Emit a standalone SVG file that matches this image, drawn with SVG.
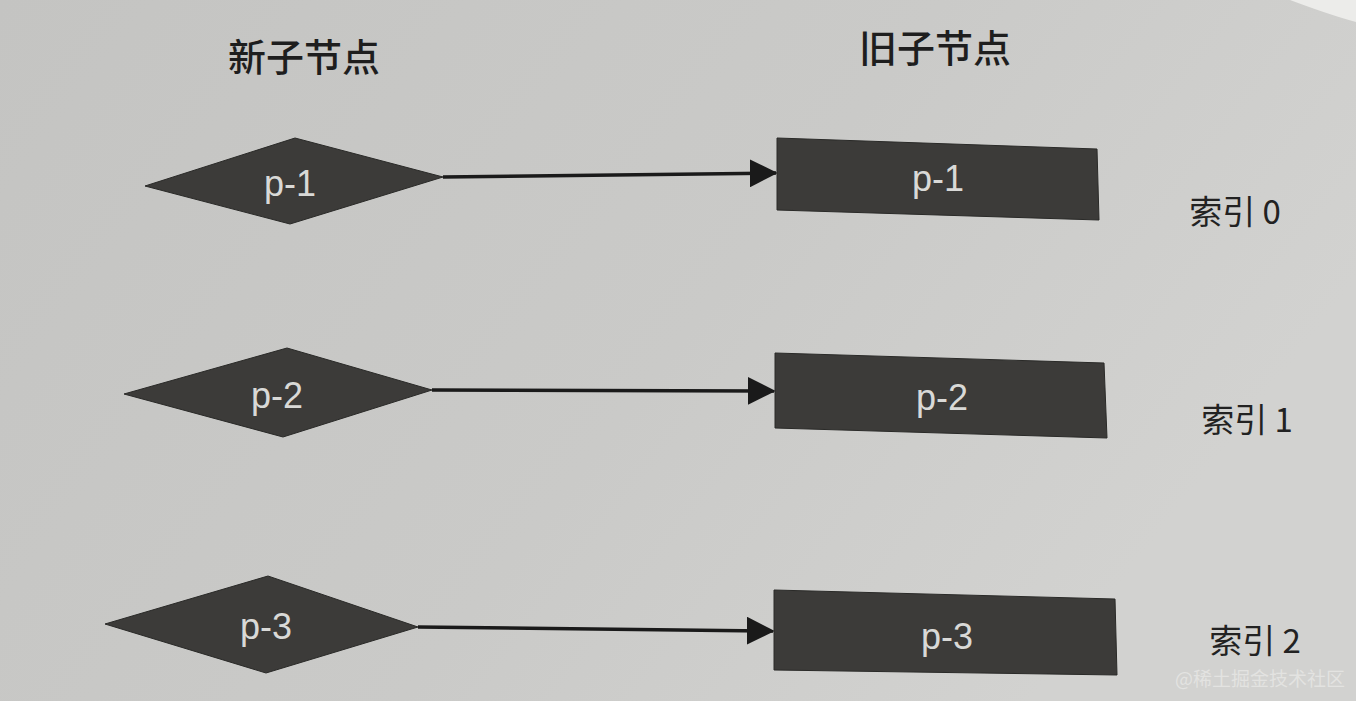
<svg xmlns="http://www.w3.org/2000/svg" width="1356" height="701" viewBox="0 0 1356 701">
<style>
.bg{fill:url(#pg)}
.node{fill:#3c3b39;stroke:#2a2a28;stroke-width:1}
.nt{font-family:"Liberation Sans",Arial,sans-serif;font-size:36px;fill:#d9d9d7;text-anchor:middle;dominant-baseline:central}
.hd{font-family:"Noto Sans CJK SC",sans-serif;font-size:38px;font-weight:500;fill:#1e1e1e;text-anchor:middle}
.ix{font-family:"Noto Sans CJK SC",sans-serif;font-size:33px;fill:#222;text-anchor:middle}
.edge{stroke:#1a1a1a;stroke-width:3.5;fill:none;marker-end:url(#ah)}
.wm{font-family:"Noto Sans CJK SC",sans-serif;font-size:19px;fill:#e6e6e4;opacity:0.85}
</style>
<defs>
<linearGradient id="pg" x1="0" y1="0" x2="1" y2="0.4">
<stop offset="0" stop-color="#c4c4c2"/>
<stop offset="0.6" stop-color="#cacac8"/>
<stop offset="1" stop-color="#d2d2d0"/>
</linearGradient>
<marker id="ah" markerWidth="8" markerHeight="8" refX="7.5" refY="4" orient="auto" markerUnits="strokeWidth">
<path d="M0,0 L8,4 L0,8 Z" fill="#1a1a1a"/>
</marker>
</defs>
<rect class="bg" x="0" y="0" width="1356" height="701"/>
<path d="M1290,0 Q1330,15 1356,22 L1356,0 Z" fill="#ececea"/>
<text class="hd" x="304" y="71">新子节点</text>
<text class="hd" x="935" y="62">旧子节点</text>
<g id="connectors">
<line class="edge" x1="443" y1="177" x2="776" y2="173"/>
<line class="edge" x1="432" y1="390" x2="774" y2="391"/>
<line class="edge" x1="418" y1="627" x2="773" y2="631"/>
</g>
<g id="new-p1">
<polygon class="node" points="145,186 295,138 443,177 290,224"/>
<text class="nt" x="290" y="183">p-1</text>
</g>
<g id="new-p2">
<polygon class="node" points="124,394 287,348 432,390 283,437"/>
<text class="nt" x="277" y="395">p-2</text>
</g>
<g id="new-p3">
<polygon class="node" points="105,624 268,576 418,627 266,673"/>
<text class="nt" x="266" y="626">p-3</text>
</g>
<g id="old-p1">
<polygon class="node" points="777,138 1097,149 1099,220 777,210"/>
<text class="nt" x="938" y="178">p-1</text>
</g>
<g id="old-p2">
<polygon class="node" points="775,353 1104,363 1107,438 775,428"/>
<text class="nt" x="942" y="397">p-2</text>
</g>
<g id="old-p3">
<polygon class="node" points="774,590 1115,599 1117,675 774,670"/>
<text class="nt" x="947" y="636">p-3</text>
</g>
<text class="ix" x="1235" y="224">索引 0</text>
<text class="ix" x="1247" y="432">索引 1</text>
<text class="ix" x="1255" y="653">索引 2</text>
<text class="wm" x="1175" y="686">@稀土掘金技术社区</text>
</svg>
